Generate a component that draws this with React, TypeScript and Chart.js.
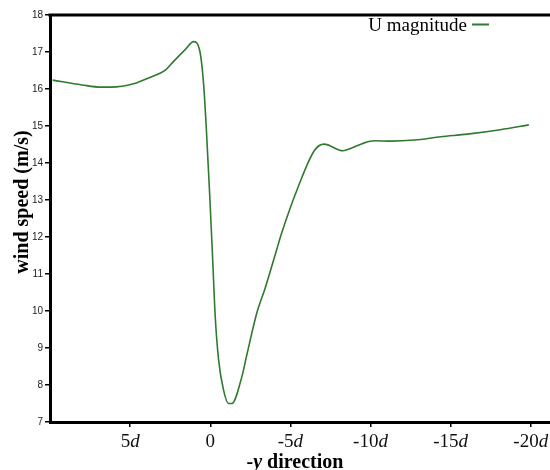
import React, { useEffect, useRef } from "react";
import { Chart, registerables } from "chart.js";

Chart.register(...registerables);

// position along the -y direction, in units of d (positive on the left)
const positions: number[] = [
  9.83, 8.0, 6.83, 6.2, 4.78, 3.73, 2.8, 2.3, 1.55, 1.04, 0.66, 0.42, 0.25, 0.04,
  -0.14, -0.31, -0.52, -0.83, -1.14, -1.35, -1.97, -2.28, -2.9, -3.42, -4.14,
  -4.45, -5.49, -6.52, -7.1, -8.28, -8.8, -9.52, -10.25, -11.28, -12.73, -14.39,
  -16.04, -18.1, -19.88,
];
// U magnitude (m/s)
const speeds: number[] = [
  16.24, 16.11, 16.05, 16.05, 16.14, 16.32, 16.51, 16.74, 17.07, 17.28, 17.04,
  16.16, 14.97, 13.19, 11.5, 9.85, 8.68, 7.86, 7.5, 7.5, 8.22, 8.81, 9.94, 10.61,
  11.65, 12.1, 13.36, 14.35, 14.51, 14.33, 14.4, 14.53, 14.6, 14.59, 14.62,
  14.71, 14.78, 14.9, 15.03,
];
const xTickValues: number[] = [5, 0, -5, -10, -15, -20];
const xTickNumbers: string[] = ["5", "0", "-5", "-10", "-15", "-20"];
const xTickUnits: string[] = ["d", "", "d", "d", "d", "d"];
const seriesLabel = "U magnitude";
const yTitle = "wind speed (m/s)";

const LINE_COLOR = "#2f7a2f";
const SERIF = "'Liberation Serif', 'Times New Roman', serif";

type Run = { text: string; font: string };

function drawRuns(ctx: CanvasRenderingContext2D, runs: Run[], cx: number, y: number) {
  let total = 0;
  const widths = runs.map((r) => {
    ctx.font = r.font;
    const w = ctx.measureText(r.text).width;
    total += w;
    return w;
  });
  let x = cx - total / 2;
  ctx.textAlign = "left";
  runs.forEach((r, i) => {
    ctx.font = r.font;
    ctx.fillText(r.text, x, y);
    x += widths[i];
  });
}

const decorPlugin = {
  id: "decor",
  afterDraw(chart: any) {
    const { ctx, chartArea, scales } = chart;
    const xs = scales.x;
    ctx.save();
    // top frame line
    ctx.strokeStyle = "#000";
    ctx.lineWidth = 3;
    ctx.beginPath();
    ctx.moveTo(chartArea.left - 1.5, chartArea.top);
    ctx.lineTo(chart.width, chartArea.top);
    ctx.stroke();

    // x tick labels (number upright, d italic)
    ctx.fillStyle = "#111";
    ctx.textBaseline = "alphabetic";
    xTickValues.forEach((v, i) => {
      const px = xs.getPixelForValue(v);
      drawRuns(
        ctx,
        [
          { text: xTickNumbers[i], font: `19px ${SERIF}` },
          { text: xTickUnits[i], font: `italic 19px ${SERIF}` },
        ],
        px,
        chartArea.bottom + 25
      );
    });

    // x axis title
    ctx.fillStyle = "#000";
    drawRuns(
      ctx,
      [
        { text: "-", font: `bold 20px ${SERIF}` },
        { text: "y", font: `italic bold 20px ${SERIF}` },
        { text: " direction", font: `bold 20px ${SERIF}` },
      ],
      295,
      468
    );

    // y axis title
    ctx.save();
    ctx.translate(28, 202);
    ctx.rotate(-Math.PI / 2);
    ctx.textAlign = "center";
    ctx.textBaseline = "alphabetic";
    ctx.font = `bold 20px ${SERIF}`;
    ctx.fillText(yTitle, 0, 0);
    ctx.restore();

    // legend (text then line swatch)
    ctx.font = `19px ${SERIF}`;
    ctx.textAlign = "right";
    ctx.textBaseline = "middle";
    ctx.fillStyle = "#000";
    ctx.fillText(seriesLabel, 467, 26);
    ctx.strokeStyle = LINE_COLOR;
    ctx.lineWidth = 2;
    ctx.beginPath();
    ctx.moveTo(472, 24.5);
    ctx.lineTo(489, 24.5);
    ctx.stroke();
    ctx.restore();
  },
};

export default function App() {
  const ref = useRef<HTMLCanvasElement | null>(null);
  useEffect(() => {
    document.body.style.margin = "0";
    const canvas = ref.current;
    if (!canvas) return;
    const chart = new Chart(canvas, {
      type: "line",
      data: {
        datasets: [
          {
            label: seriesLabel,
            data: positions.map((p, i) => ({ x: p, y: speeds[i] })),
            borderColor: LINE_COLOR,
            borderWidth: 1.6,
            pointRadius: 0,
            cubicInterpolationMode: "monotone",
            fill: false,
          },
        ],
      },
      options: {
        animation: false,
        responsive: false,
        devicePixelRatio: 1,
        layout: { padding: { top: 15, right: 0, left: 0, bottom: 0 } },
        plugins: {
          legend: { display: false },
          tooltip: { enabled: false },
        },
        scales: {
          x: {
            type: "linear",
            reverse: true,
            min: -21.2,
            max: 10,
            afterBuildTicks: (s: any) => {
              s.ticks = xTickValues.map((v) => ({ value: v }));
            },
            afterFit: (s: any) => {
              s.height = 48;
            },
            ticks: { display: false },
            grid: {
              drawOnChartArea: false,
              drawTicks: true,
              tickLength: 5,
              color: "#000",
              lineWidth: 1.5,
            },
            border: { display: true, color: "#000", width: 3 },
          },
          y: {
            type: "linear",
            min: 7,
            max: 18,
            afterFit: (s: any) => {
              s.width = 50;
            },
            ticks: {
              stepSize: 1,
              padding: 2,
              color: "#222",
              font: { family: "'Liberation Sans', Arial, sans-serif", size: 10 },
            },
            grid: {
              drawOnChartArea: false,
              drawTicks: true,
              tickLength: 5,
              color: "#000",
              lineWidth: 1.5,
            },
            border: { display: true, color: "#000", width: 3 },
          },
        },
      },
      plugins: [decorPlugin],
    });
    return () => chart.destroy();
  }, []);
  return <canvas ref={ref} width={550} height={470} style={{ display: "block" }} />;
}
